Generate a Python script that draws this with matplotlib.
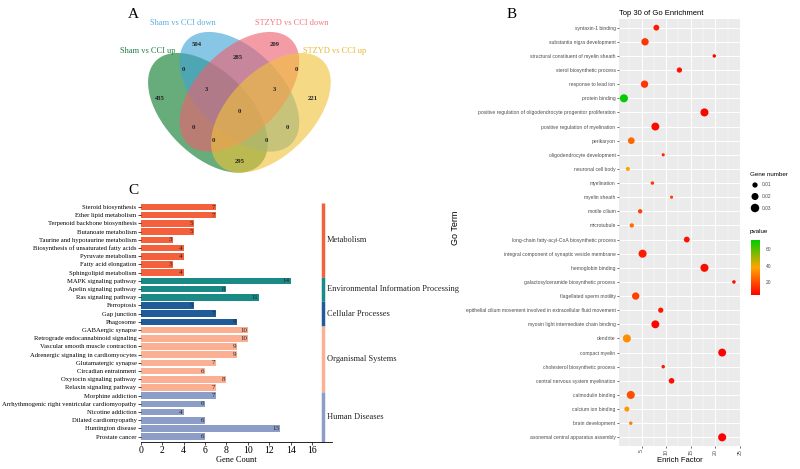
import numpy as np
import matplotlib as mpl
import matplotlib.pyplot as plt
from matplotlib.patches import Ellipse
from matplotlib.colors import LinearSegmentedColormap, Normalize

SERIF = "Liberation Serif"
SANS = "Liberation Sans"

# ---- A: venn data
venn_names = ["Sham vs CCI up", "Sham vs CCI down", "STZYD vs CCI down", "STZYD vs CCI up"]
venn_regions = ["A", "B", "C", "D", "AB", "BC", "CD", "ABC", "BCD", "ABCD",
                "AC", "BD", "ACD", "ABD", "AD"]
venn_counts = [435, 504, 209, 221, 0, 285, 0, 3, 3, 0, 0, 0, 0, 0, 295]

# ---- B: GO enrichment
go_terms = [
    "syntaxin-1 binding", "substantia nigra development",
    "structural constituent of myelin sheath", "sterol biosynthetic process",
    "response to lead ion", "protein binding",
    "positive regulation of oligodendrocyte progenitor proliferation",
    "positive regulation of myelination", "perikaryon", "oligodendrocyte development",
    "neuronal cell body", "myelination", "myelin sheath", "motile cilium", "microtubule",
    "long-chain fatty-acyl-CoA biosynthetic process",
    "integral component of synaptic vesicle membrane", "hemoglobin binding",
    "galactosylceramide biosynthetic process", "flagellated sperm motility",
    "epithelial cilium movement involved in extracellular fluid movement",
    "myosin light intermediate chain binding", "dendrite", "compact myelin",
    "cholesterol biosynthetic process", "central nervous system myelination",
    "calmodulin binding", "calcium ion binding", "brain development",
    "axonemal central apparatus assembly",
]
enrich = [8.0, 5.7, 19.8, 12.7, 5.6, 1.4, 17.8, 7.8, 2.9, 9.4,
          2.2, 7.2, 11.1, 4.7, 3.0, 14.2, 5.2, 17.8, 23.8, 3.8,
          8.9, 7.8, 2.0, 21.4, 9.4, 11.1, 2.8, 2.0, 2.8, 21.4]
gene_num = [0.013, 0.022, 0.003, 0.010, 0.022, 0.027, 0.027, 0.026, 0.018, 0.002,
            0.005, 0.003, 0.002, 0.006, 0.006, 0.013, 0.027, 0.027, 0.003, 0.022,
            0.010, 0.026, 0.027, 0.026, 0.003, 0.012, 0.027, 0.009, 0.003, 0.027]
pvals = [10, 15, 6, 7, 15, 70.8, 5, 6, 25, 12,
         38, 16, 18, 17, 26, 8, 10, 6, 6, 17,
         9, 5, 33, 5, 9, 7, 20, 35, 30, 4.4]
size_breaks = [0.01, 0.02, 0.03]

# ---- C: KEGG pathways
pathways = [
    "Steroid biosynthesis", "Ether lipid metabolism", "Terpenoid backbone biosynthesis",
    "Butanoate metabolism", "Taurine and hypotaurine metabolism",
    "Biosynthesis of unsaturated fatty acids", "Pyruvate metabolism",
    "Fatty acid elongation", "Sphingolipid metabolism",
    "MAPK signaling pathway", "Apelin signaling pathway", "Ras signaling pathway",
    "Ferroptosis", "Gap junction", "Phagosome",
    "GABAergic synapse", "Retrograde endocannabinoid signaling",
    "Vascular smooth muscle contraction", "Adrenergic signaling in cardiomyocytes",
    "Glutamatergic synapse", "Circadian entrainment", "Oxytocin signaling pathway",
    "Relaxin signaling pathway",
    "Morphine addiction", "Arrhythmogenic right ventricular cardiomyopathy",
    "Nicotine addiction", "Dilated cardiomyopathy", "Huntington disease", "Prostate cancer",
]
counts = [7, 7, 5, 5, 3, 4, 4, 3, 4, 14, 8, 11, 5, 7, 9,
          10, 10, 9, 9, 7, 6, 8, 7, 7, 6, 4, 6, 13, 6]
classes = ["Metabolism"] * 9 + ["Environmental Information Processing"] * 3 + \
          ["Cellular Processes"] * 3 + ["Organismal Systems"] * 8 + ["Human Diseases"] * 6
class_colors = {
    "Metabolism": "#F4603C",
    "Environmental Information Processing": "#1A8A86",
    "Cellular Processes": "#1F5C99",
    "Organismal Systems": "#FBAF93",
    "Human Diseases": "#8C9DC7",
}

W, H = 800, 469
fig = plt.figure(figsize=(8, 4.69), dpi=100)


def px_axes(l, t, r, b):
    return fig.add_axes([l / W, 1 - b / H, (r - l) / W, (b - t) / H])


# ================= A
axA = px_axes(134.4, 1.5, 344.4, 211.5)
axA.set_xlim(0, 1)
axA.set_ylim(0, 1)
axA.axis("off")
ell = [((0.35, 0.47), -45, "#0a7a2a"), ((0.5, 0.57), -45, "#3fa3d5"),
       ((0.5, 0.57), 45, "#ee6070"), ((0.65, 0.47), 45, "#f0c23a")]
for (c, ang, col) in ell:
    axA.add_patch(Ellipse(c, 0.70, 0.40, angle=ang, facecolor=col, alpha=0.62,
                          edgecolor="none"))
reg_pos = {"A": (0.122, 0.536), "B": (0.298, 0.793), "C": (0.670, 0.793),
           "D": (0.851, 0.536), "AB": (0.234, 0.674), "BC": (0.494, 0.735),
           "CD": (0.773, 0.674), "ABC": (0.341, 0.579), "BCD": (0.666, 0.579),
           "ABCD": (0.5, 0.478), "AC": (0.280, 0.398), "BD": (0.727, 0.398),
           "ACD": (0.375, 0.340), "ABD": (0.631, 0.340), "AD": (0.5, 0.240)}
for r, n in zip(venn_regions, venn_counts):
    x, y = reg_pos[r]
    axA.text(x, y, str(n), ha="center", va="center", fontsize=4.8,
             fontweight="bold", family=SERIF, color="#222222")
name_pos = [(0.065, 0.764), (0.232, 0.898), (0.75, 0.898), (0.955, 0.764)]
name_cols = ["#1F7F45", "#5AAFDC", "#F07882", "#E8B830"]
for nm, (x, y), col in zip(venn_names, name_pos, name_cols):
    axA.text(x, y, nm, ha="center", va="center", fontsize=6, family=SERIF,
             color=col, clip_on=False)

# ================= C
axC = px_axes(140.7, 202.9, 332, 441.7)
ypos = np.arange(len(pathways))
bar_cols = [class_colors[c] for c in classes]
axC.barh(ypos, counts, height=0.8, color=bar_cols)
for y, v in zip(ypos, counts):
    axC.text(v - 0.08, y, str(v), ha="right", va="center", fontsize=5,
             family=SERIF, color="#222222")
axC.set_ylim(len(pathways) - 1 + 0.61, -0.5)
axC.set_xlim(0, 17.85)
axC.set_yticks(ypos)
axC.set_yticklabels(pathways, fontsize=4.8, family=SERIF)
axC.set_xticks(np.arange(0, 17, 2))
axC.set_xticklabels([str(t) for t in range(0, 17, 2)], fontsize=7, family=SERIF)
axC.tick_params(axis="y", length=2, width=0.5, pad=1)
axC.tick_params(axis="x", length=2, width=0.5, pad=1)
for s in ["top", "right", "left"]:
    axC.spines[s].set_visible(False)
axC.spines["bottom"].set_linewidth(0.6)
axC.set_xlabel("Gene Count", fontsize=6, family=SERIF, labelpad=1)
# class stripes
order = list(dict.fromkeys(classes))
lo = -0.5
for cl in order:
    n = classes.count(cl)
    hi = lo + n
    top, bot = lo, (hi if cl != order[-1] else len(pathways) - 1 + 0.61)
    axC.plot([17, 17], [top, bot], color=class_colors[cl], lw=2.5,
             solid_capstyle="butt", clip_on=False)
    axC.text(17.4, (top + bot) / 2, cl, fontsize=6, family=SERIF, va="center",
             ha="left", color="#222222", clip_on=False)
    lo = hi

# ================= B
axB = px_axes(619, 19.2, 741.3, 445.8)
axB.set_facecolor("#EBEBEB")
cmap = LinearSegmentedColormap.from_list("pv", [(0, "#FF0000"), (0.5, "#FFA500"),
                                                 (1, "#00CC00")])
norm = Normalize(vmin=min(pvals), vmax=max(pvals))


def gsize(v):
    return 0.5184 * (10 + (np.asarray(v) - 0.002) * 2200)


rows = np.arange(len(go_terms))
axB.scatter(enrich, rows, s=gsize(gene_num), c=pvals, cmap=cmap, norm=norm,
            edgecolors="none", zorder=3)
axB.set_xlim(0.4, 25.3)
axB.set_ylim(len(go_terms) - 1 + 0.6, -0.6)
axB.set_yticks(rows)
axB.set_yticklabels(go_terms, fontsize=3.6, family=SANS, color="#4D4D4D")
axB.set_xticks([5, 10, 15, 20, 25])
axB.set_xticklabels(["5", "10", "15", "20", "25"], fontsize=3.8, family=SANS,
                    color="#4D4D4D", rotation=90)
axB.set_xticks([2.5, 7.5, 12.5, 17.5, 22.5], minor=True)
axB.grid(True, which="major", color="white", lw=0.7)
axB.grid(True, which="minor", axis="x", color="white", lw=0.35)
axB.set_axisbelow(True)
axB.tick_params(which="major", length=1.5, width=0.5, color="#333333", pad=1)
axB.tick_params(which="minor", length=0)
for s in axB.spines.values():
    s.set_visible(False)
axB.set_title("Top 30 of Go Enrichment", loc="left", fontsize=5.5, family=SANS,
              pad=3)
axB.set_xlabel("Enrich Factor", fontsize=5.5, family=SANS, labelpad=1)

# colorbar
cax = px_axes(751, 240, 760, 295)
cb = mpl.colorbar.ColorbarBase(cax, cmap=cmap, norm=norm, orientation="vertical")
cb.outline.set_visible(False)
cb.set_ticks([20, 40, 60])
cb.ax.tick_params(labelsize=3.5, length=2, color="white", width=0.5, pad=2,
                  labelcolor="#4D4D4D")
for t in cb.ax.get_yticklabels():
    t.set_family(SANS)

# overlay for figure-level text in pixel coords
ov = fig.add_axes([0, 0, 1, 1])
ov.set_xlim(0, W)
ov.set_ylim(H, 0)
ov.axis("off")
ov.patch.set_alpha(0)
ov.text(133, 14, "A", fontsize=11, family=SERIF, ha="center", va="center")
ov.text(512, 14, "B", fontsize=11, family=SERIF, ha="center", va="center")
ov.text(133, 190, "C", fontsize=11, family=SERIF, ha="center", va="center")
ov.text(455, 228, "Go Term", fontsize=6.5, family=SANS, rotation=90,
        ha="center", va="center")
ov.text(750, 174, "Gene number", fontsize=4.5, family=SANS, va="center")
for i, b in enumerate(size_breaks):
    yy = 185 + i * 11.5
    ov.scatter([755], [yy], s=gsize(b), color="black", edgecolors="none")
    ov.text(762, yy, str(b), fontsize=3.5, family=SANS, va="center", color="#4D4D4D")
ov.text(750, 231, "pvalue", fontsize=4.5, family=SANS, va="center")

fig.savefig("out.png", dpi=100)
